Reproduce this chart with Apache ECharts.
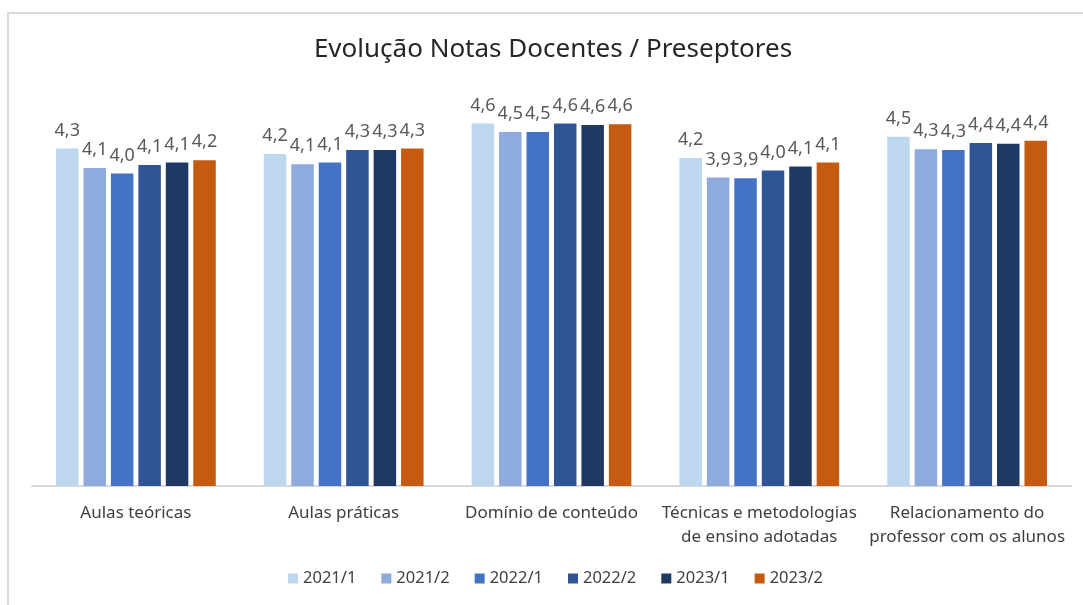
<!DOCTYPE html>
<html><head><meta charset="utf-8">
<script src="https://cdn.jsdelivr.net/npm/echarts@6/dist/echarts.min.js"></script>
<style>html,body{margin:0;padding:0;background:#fff}#c{width:1083px;height:605px}</style>
</head><body><div id="c"></div>
<script>
const categories = ['Aulas teóricas','Aulas práticas','Domínio de conteúdo','Técnicas e metodologias\nde ensino adotadas','Relacionamento do\nprofessor com os alunos'];
const seriesNames = ['2021/1','2021/2','2022/1','2022/2','2023/1','2023/2'];
const s2021_1 = [4.31, 4.24, 4.63, 4.19, 4.46];
const s2021_2 = [4.06, 4.11, 4.52, 3.94, 4.30];
const s2022_1 = [3.99, 4.13, 4.52, 3.93, 4.29];
const s2022_2 = [4.10, 4.29, 4.63, 4.03, 4.38];
const s2023_1 = [4.13, 4.29, 4.61, 4.08, 4.37];
const s2023_2 = [4.16, 4.31, 4.62, 4.13, 4.41];
const seriesData = [s2021_1, s2021_2, s2022_1, s2022_2, s2023_1, s2023_2];
const colors = ['#BDD7EE','#8FAADC','#4472C4','#2F5597','#203864','#C55A11'];

const chart = echarts.init(document.getElementById('c'));
const FONT = '"Noto Sans", sans-serif';
chart.setOption({
  animation: false,
  textStyle: { fontFamily: FONT },
  title: {
    text: 'Evolução Notas Docentes / Preseptores',
    left: 548, top: 32, textAlign: 'center',
    textStyle: { fontFamily: FONT, fontSize: 26, fontWeight: 'normal', color: '#262626' }
  },
  graphic: [{
    type: 'rect', shape: { x: 8, y: 13, width: 1200, height: 700 },
    style: { fill: 'none', stroke: '#d9d9d9', lineWidth: 2 }, silent: true
  }],
  legend: {
    bottom: 13, left: 283, itemWidth: 10, itemHeight: 10, itemGap: 25,
    icon: 'rect',
    textStyle: { fontFamily: FONT, fontSize: 16.5, color: '#404040' },
    data: seriesNames
  },
  grid: { left: 32, right: 12, top: 94.5, bottom: 119, containLabel: false },
  xAxis: {
    type: 'category', data: categories,
    axisLine: { lineStyle: { color: '#d9d9d9', width: 2 } },
    axisTick: { show: false },
    axisLabel: { fontFamily: FONT, fontSize: 17, color: '#404040', lineHeight: 24, margin: 15, interval: 0 }
  },
  yAxis: { type: 'value', min: 0, max: 5, show: false, splitLine: { show: false } },
  series: seriesNames.map((n, i) => ({
    name: n, type: 'bar', data: seriesData[i],
    barWidth: 22.5, barGap: '22%',
    itemStyle: { color: colors[i] },
    label: {
      show: true, position: 'top', distance: 9,
      fontFamily: FONT, fontSize: 18, color: '#595959',
      formatter: p => p.value.toFixed(1).replace('.', ',')
    }
  }))
});
</script></body></html>
